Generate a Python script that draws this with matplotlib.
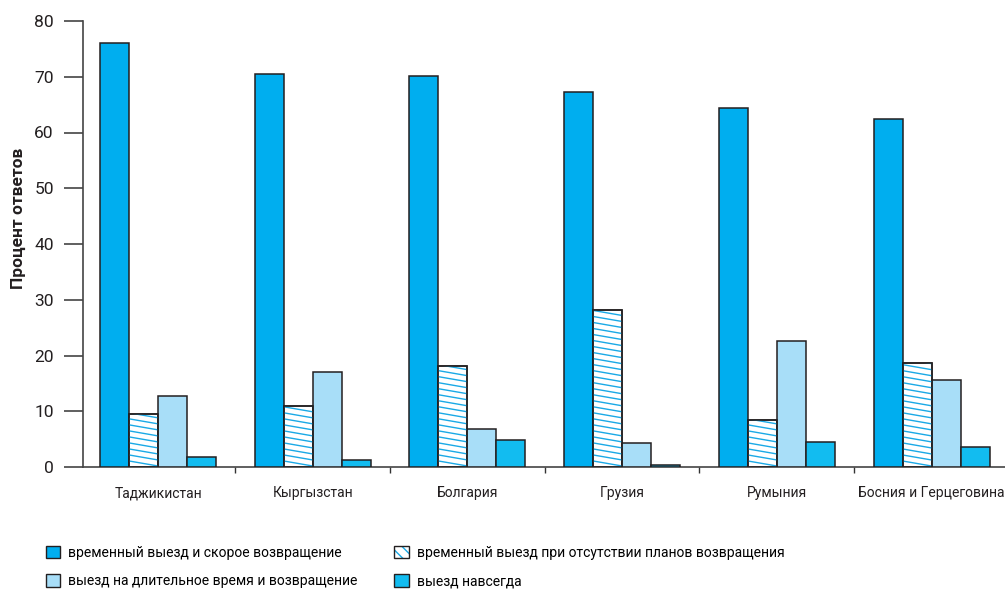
import numpy as np
import matplotlib
matplotlib.use("Agg")
import matplotlib.pyplot as plt
from matplotlib.patches import Patch

plt.rcParams["font.family"] = ["Roboto", "DejaVu Sans"]

countries = ["Таджикистан", "Кыргызстан", "Болгария", "Грузия", "Румыния",
             "Босния и Герцеговина"]
series_names = [
    "временный выезд и скорое возвращение",
    "временный выезд при отсутствии планов возвращения",
    "выезд на длительное время и возвращение",
    "выезд навсегда",
]
short_return = [76.0, 70.5, 70.2, 67.3, 64.4, 62.4]
no_plans = [9.5, 11.0, 18.1, 28.2, 8.5, 18.7]
long_return = [12.8, 17.1, 6.9, 4.3, 22.6, 15.6]
forever = [1.8, 1.3, 4.8, 0.3, 4.5, 3.5]

c_main = "#00AEEF"
c_light = "#A8DEF8"
c_forever = "#12BCF0"
c_hatch = "#1AA9E6"
c_edge = "#231F20"

fig = plt.figure(figsize=(10.05, 5.9), dpi=100)
ax = fig.add_axes([83 / 1005, 1 - 467 / 590, 1 - 83 / 1005, (467 - 21) / 590])

x = np.arange(len(countries))
w = 0.1875
offs = np.array([-1.5, -0.5, 0.5, 1.5]) * w
lw = 1.1

ax.bar(x + offs[0], short_return, w, color=c_main, edgecolor=c_edge, linewidth=lw, zorder=3)
hb = ax.bar(x + offs[1], no_plans, w, color="white", edgecolor=c_edge, linewidth=lw, zorder=3)
ax.bar(x + offs[2], long_return, w, color=c_light, edgecolor=c_edge, linewidth=lw, zorder=3)
ax.bar(x + offs[3], forever, w, color=c_forever, edgecolor=c_edge, linewidth=lw, zorder=3)

# shallow diagonal hatch, clipped to each bar
step = 1.08
drop = 0.9
for rect in hb:
    x0 = rect.get_x()
    x1 = x0 + rect.get_width()
    h = rect.get_height()
    k = 0.0
    while k < h + drop + step:
        ln, = ax.plot([x0, x1], [k, k - drop], color=c_hatch, lw=1.0, zorder=3.5)
        ln.set_clip_path(rect)
        k += step
    # outline on top of the hatch
    ax.bar(x0 + rect.get_width() / 2, h, w, fill=False, edgecolor=c_edge,
           linewidth=lw, zorder=4)

ax.set_xlim(-0.485, 5.475)
ax.set_ylim(0, 80)
ax.set_yticks(np.arange(0, 81, 10))
ax.set_xticks(x)
ax.set_xticklabels(countries, fontsize=10)
ax.set_xticks(x[:-1] + 0.5, minor=True)
ax.tick_params(axis="x", which="major", length=0, pad=14, colors="#231F20")
ax.tick_params(axis="x", which="minor", length=4, width=1, color="#333333", direction="out")
ax.tick_params(axis="y", length=14, width=1.2, color="#444444", pad=7,
               labelsize=12.5, labelcolor="#231F20")

for s in ["top", "right"]:
    ax.spines[s].set_visible(False)
for s in ["left", "bottom"]:
    ax.spines[s].set_color("#444444")
    ax.spines[s].set_linewidth(1.2)

fig.text(18 / 1005, 1 - 218 / 590, "Процент ответов", rotation=90, ha="center",
         va="center", fontsize=12.5, fontweight="bold", color="#231F20")

handles = [
    Patch(facecolor=c_main, edgecolor=c_edge, linewidth=1),
    Patch(facecolor=c_light, edgecolor=c_edge, linewidth=1),
    (Patch(facecolor="white", edgecolor=c_hatch, hatch="\\\\\\", linewidth=0),
     Patch(facecolor="none", edgecolor=c_edge, linewidth=1)),
    Patch(facecolor=c_forever, edgecolor=c_edge, linewidth=1),
]
labels = [series_names[0], series_names[2], series_names[1], series_names[3]]
fig.legend(handles, labels, ncol=2, loc="upper left",
           bbox_to_anchor=(40 / 1005, 1 - 540 / 590), frameon=False,
           fontsize=10, handlelength=1.05, handleheight=1.05, handletextpad=0.6,
           columnspacing=2.6, labelspacing=1.05, borderaxespad=0)

fig.savefig("out.png", dpi=100)
